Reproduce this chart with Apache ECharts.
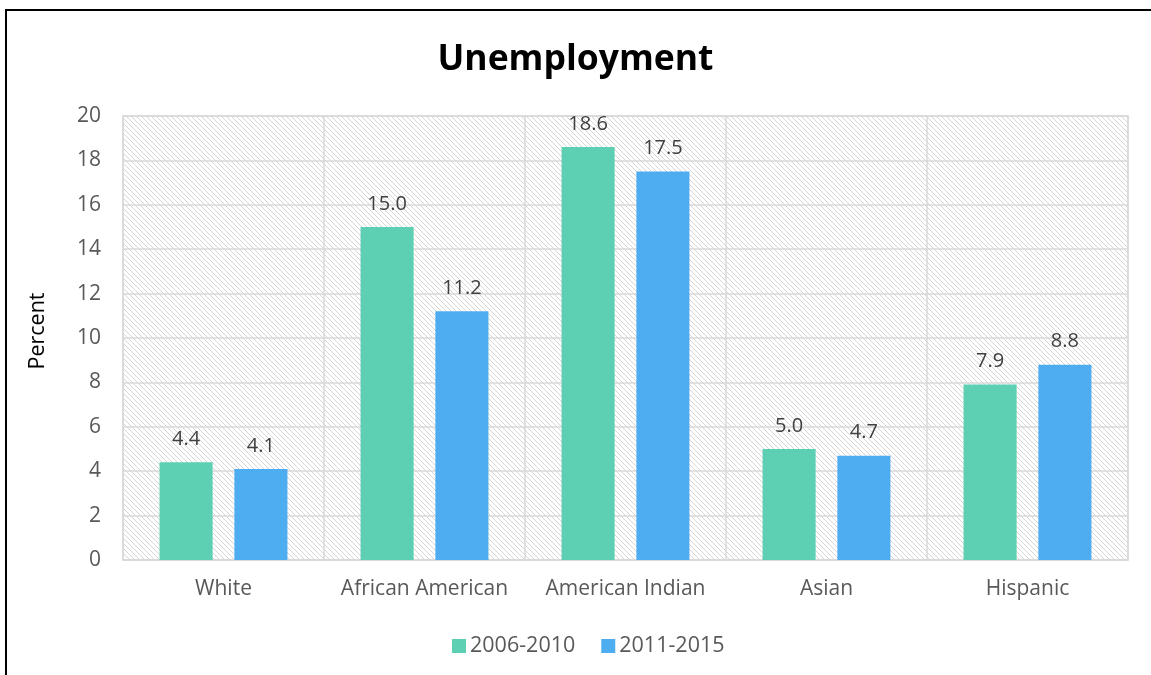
<!DOCTYPE html>
<html>
<head>
<meta charset="utf-8">
<script src="https://cdn.jsdelivr.net/npm/echarts@6/dist/echarts.min.js"></script>
<style>
  html, body { margin: 0; padding: 0; background: #fff; }
  #chart { width: 1151px; height: 675px; }
</style>
</head>
<body>
<div id="chart"></div>
<script>
// Unemployment rate by group, two survey periods
const categories = ['White', 'African American', 'American Indian', 'Asian', 'Hispanic'];
const seriesNames = ['2006-2010', '2011-2015'];
const values2006 = [4.4, 15.0, 18.6, 5.0, 7.9];
const values2011 = [4.1, 11.2, 17.5, 4.7, 8.8];
const yTicks = { min: 0, max: 20, interval: 2 };

const FONT = '"Open Sans", "Noto Sans", sans-serif';

// light downward-diagonal hatch used as the plot-area fill
function hatchPattern() {
  const n = 5;
  const c = document.createElement('canvas');
  c.width = n; c.height = n;
  const ctx = c.getContext('2d');
  ctx.fillStyle = '#ffffff';
  ctx.fillRect(0, 0, n, n);
  ctx.fillStyle = '#d6d6d6';
  for (let i = 0; i < n; i++) ctx.fillRect(i, i, 1, 1);
  return { image: c, repeat: 'repeat' };
}

const labelStyle = {
  show: true,
  position: 'top',
  distance: 13,
  color: '#404040',
  fontFamily: FONT,
  fontSize: 20,
  formatter: p => p.value.toFixed(1)
};

const chart = echarts.init(document.getElementById('chart'), null, { renderer: 'canvas' });
chart.setOption({
  animation: false,
  backgroundColor: '#ffffff',
  title: {
    text: 'Unemployment',
    left: 'center',
    top: 37,
    textStyle: { fontFamily: FONT, fontWeight: 'bold', fontSize: 35.5, color: '#000000' }
  },
  graphic: [{
    type: 'rect',
    shape: { x: 6, y: 10, width: 1200, height: 720 },
    style: { fill: 'none', stroke: '#000000', lineWidth: 2 },
    silent: true
  }],
  legend: {
    bottom: 13,
    left: 447,
    itemWidth: 14,
    itemHeight: 14,
    itemGap: 26,
    icon: 'rect',
    textStyle: { fontFamily: FONT, fontSize: 21.5, color: '#595959', padding: [0, 0, 0, -1] },
    data: seriesNames
  },
  grid: {
    left: 123, right: 23, top: 116, bottom: 115,
    show: true,
    backgroundColor: hatchPattern(),
    borderColor: '#d9d9d9',
    borderWidth: 1.5
  },
  xAxis: {
    type: 'category',
    data: categories,
    axisLine: { show: true, lineStyle: { color: '#d9d9d9', width: 1.5 } },
    axisTick: { show: false },
    splitLine: { show: true, interval: 0, lineStyle: { color: '#d9d9d9', width: 1.5 } },
    axisLabel: { interval: 0, margin: 19, fontFamily: FONT, fontSize: 21, color: '#595959' }
  },
  yAxis: {
    type: 'value',
    min: yTicks.min, max: yTicks.max, interval: yTicks.interval,
    name: 'Percent',
    nameLocation: 'middle',
    nameGap: 74,
    nameRotate: 90,
    nameTextStyle: { fontFamily: FONT, fontSize: 21.5, color: '#000000', padding: [0, 0, 0, 14] },
    axisLine: { show: false },
    axisTick: { show: false },
    splitLine: { show: true, lineStyle: { color: '#d9d9d9', width: 1.5 } },
    axisLabel: { margin: 22, fontFamily: FONT, fontSize: 21, color: '#595959' }
  },
  series: [
    {
      name: seriesNames[0], type: 'bar', data: values2006,
      barWidth: '26.4%', barGap: '41%',
      itemStyle: { color: '#5dcfb2' },
      label: labelStyle
    },
    {
      name: seriesNames[1], type: 'bar', data: values2011,
      barWidth: '26.4%', barGap: '41%',
      itemStyle: { color: '#4eacf0' },
      label: labelStyle
    }
  ]
});
</script>
</body>
</html>
